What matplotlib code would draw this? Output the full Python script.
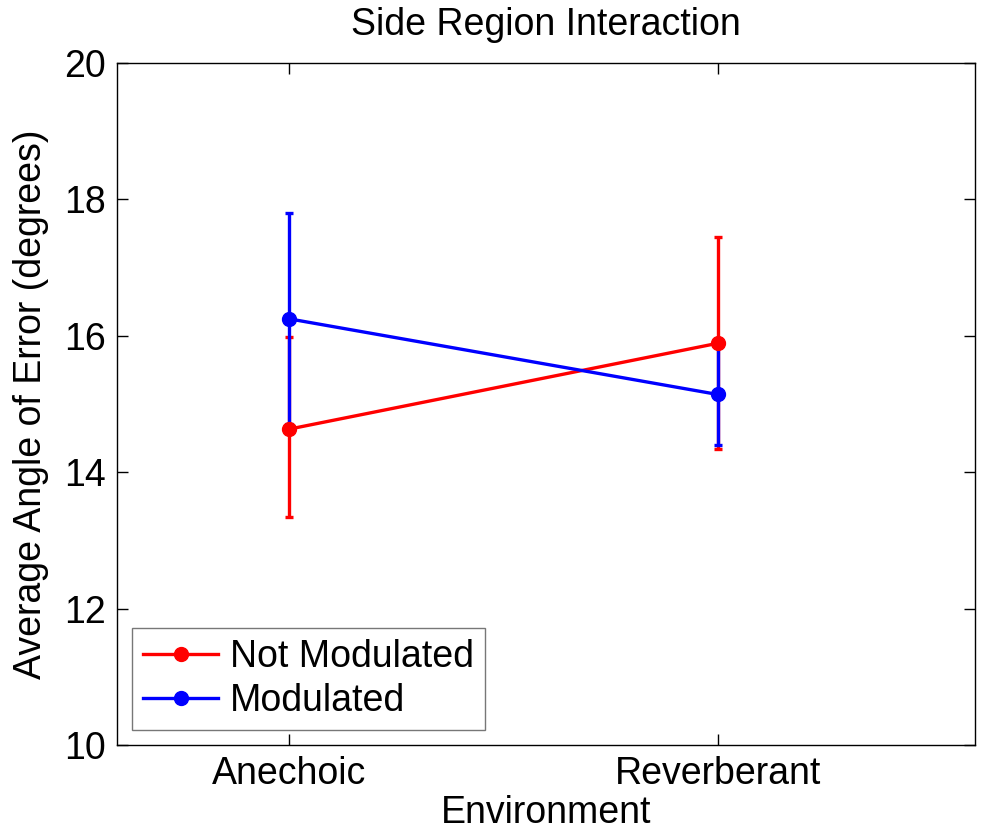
import numpy as np
import matplotlib.pyplot as plt
import matplotlib as mpl
from matplotlib.lines import Line2D

mpl.rcParams["font.family"] = ["Liberation Sans", "DejaVu Sans"]

environments = ["Anechoic", "Reverberant"]
not_mod_mean = [14.63, 15.89]
not_mod_lo = [13.34, 14.34]
not_mod_hi = [15.98, 17.45]
mod_mean = [16.25, 15.14]
mod_lo = [14.71, 14.40]
mod_hi = [17.80, 15.88]

x = np.arange(1, len(environments) + 1)

fig = plt.figure(figsize=(9.81, 8.38), dpi=100)
ax = fig.add_axes([0.1193, 0.111, 0.8746, 0.8138])

handles = []
for mean, lo, hi, color, label in [
        (not_mod_mean, not_mod_lo, not_mod_hi, "#ff0000", "Not Modulated"),
        (mod_mean, mod_lo, mod_hi, "#0000ff", "Modulated")]:
    mean = np.array(mean)
    yerr = [mean - np.array(lo), np.array(hi) - mean]
    ax.errorbar(x, mean, yerr=yerr, color=color, marker="o", markersize=10,
                linewidth=2.4, elinewidth=2.4, capsize=3, capthick=2.4)
    handles.append(Line2D([], [], color=color, marker="o", markersize=10,
                          linewidth=2.4, label=label))

ax.set_xlim(0.6, 2.6)
ax.set_ylim(10, 20)
ax.set_xticks(x)
ax.set_xticklabels(environments)
ax.set_yticks(np.arange(10, 21, 2))
ax.tick_params(direction="in", length=8, width=1, labelsize=27,
               top=True, right=True, pad=8)
for s in ax.spines.values():
    s.set_linewidth(1)

ax.set_xlabel("Environment", fontsize=27, labelpad=2)
ax.set_ylabel("Average Angle of Error (degrees)", fontsize=27, labelpad=11)
ax.set_title("Side Region Interaction", fontsize=27, pad=20)

leg = ax.legend(handles=handles, loc="lower left", fontsize=27,
                fancybox=False, handlelength=2.0, borderpad=0.3,
                labelspacing=0.2, handletextpad=0.3, borderaxespad=0.4)
leg.get_frame().set_edgecolor("#555555")
leg.get_frame().set_linewidth(1)

fig.savefig("out.png", dpi=100)
